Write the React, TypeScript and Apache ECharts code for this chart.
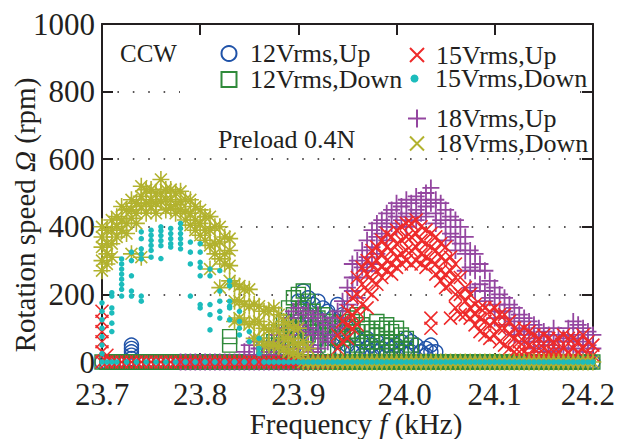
import React, { useEffect, useRef } from "react";
import * as echarts from "echarts";

// Frequency grid (kHz)
const FREQ = [
  23.700, 23.705, 23.710, 23.715, 23.720, 23.725, 23.730, 23.735, 23.740, 23.745,
  23.750, 23.755, 23.760, 23.765, 23.770, 23.775, 23.780, 23.785, 23.790, 23.795,
  23.800, 23.805, 23.810, 23.815, 23.820, 23.825, 23.830, 23.835, 23.840, 23.845,
  23.850, 23.855, 23.860, 23.865, 23.870, 23.875, 23.880, 23.885, 23.890, 23.895,
  23.900, 23.905, 23.910, 23.915, 23.920, 23.925, 23.930, 23.935, 23.940, 23.945,
  23.950, 23.955, 23.960, 23.965, 23.970, 23.975, 23.980, 23.985, 23.990, 23.995,
  24.000, 24.005, 24.010, 24.015, 24.020, 24.025, 24.030, 24.035, 24.040, 24.045,
  24.050, 24.055, 24.060, 24.065, 24.070, 24.075, 24.080, 24.085, 24.090, 24.095,
  24.100, 24.105, 24.110, 24.115, 24.120, 24.125, 24.130, 24.135, 24.140, 24.145,
  24.150, 24.155, 24.160, 24.165, 24.170, 24.175, 24.180, 24.185, 24.190, 24.195,
  24.200,
];

// Rotation speed (rpm), several readings per frequency
const UP12 = [
  [0], [0], [0], [0], [0], [0], [50, 40, 30, 20, 10, 0], [0], [0], [0],
  [0], [0], [0], [0], [0], [0], [0], [0], [0], [0],
  [0], [0], [0], [0], [0], [0], [0], [0], [0], [0],
  [0], [0], [0], [0], [0], [0], [0], [0], [60, 0], [100, 40, 0],
  [180, 120, 60, 0], [210, 160, 90, 0], [190, 140, 80, 0], [170, 110, 0], [180, 130, 70, 0], [160, 100, 0], [150, 90, 40, 0], [130, 70, 0], [170, 120, 60, 0], [140, 80, 30, 0],
  [100, 50, 0], [80, 30, 0], [70, 30, 0], [60, 20, 0], [70, 40, 0], [50, 20, 0], [60, 30, 0], [40, 0], [50, 20, 0], [40, 0],
  [50, 20, 0], [60, 30, 0], [70, 40, 0], [60, 30, 0], [50, 0], [30, 0], [40, 20, 0], [50, 30, 0], [30, 0], [0],
  [0], [0], [0], [0], [0], [0], [0], [0], [0], [0],
  [0], [0], [0], [0], [0], [0], [0], [0], [0], [0],
  [0], [0], [0], [0], [0], [0], [0], [0], [0], [0],
  [0],
];

const DOWN12 = [
  [0], [0], [0], [0], [0], [0], [0], [0], [0], [0],
  [0], [0], [0], [0], [0], [0], [0], [0], [0], [0],
  [0], [0], [0], [0], [0], [0], [75, 50, 0], [0], [0], [0],
  [0], [0], [0], [40, 0], [50, 20, 0], [60, 30, 0], [90, 50, 0], [120, 70, 30, 0], [160, 110, 60, 0], [190, 140, 80, 0],
  [200, 150, 100, 0], [210, 160, 110, 0], [180, 130, 80, 0], [150, 100, 60, 0], [130, 90, 50, 0], [140, 100, 0], [120, 80, 40, 0], [110, 70, 0], [100, 70, 30, 0], [110, 70, 0],
  [130, 90, 40, 0], [120, 80, 0], [140, 90, 50, 0], [110, 70, 0], [100, 60, 30, 0], [90, 60, 0], [120, 80, 40, 0], [100, 60, 0], [110, 70, 30, 0], [90, 50, 0],
  [100, 60, 30, 0], [80, 40, 0], [70, 40, 0], [50, 0], [0], [0], [0], [0], [0], [0],
  [0], [0], [0], [0], [0], [0], [0], [0], [0], [0],
  [0], [0], [0], [0], [0], [0], [0], [0], [0], [0],
  [0], [0], [0], [0], [0], [0], [0], [0], [0], [0],
  [0],
];

const UP15 = [
  [150, 120, 90, 60, 30, 0], [20, 0], [0], [0], [0], [0], [0], [0], [0], [0],
  [0], [0], [0], [0], [0], [0], [0], [0], [0], [0],
  [0], [0], [0], [0], [0], [0], [0], [0], [0], [0],
  [0], [0], [0], [0], [0], [0], [0], [0], [0], [0],
  [0], [0], [0], [0], [0], [0], [0], [0], [80, 40, 0], [120, 60],
  [150, 110, 70], [190, 140, 100], [250, 200, 150, 110], [280, 230, 170], [300, 260, 210, 160], [330, 290, 240, 200], [340, 300, 270, 230], [360, 320, 280, 250], [380, 340, 300, 270], [370, 330, 290, 260],
  [390, 350, 310, 280], [400, 360, 320, 290], [410, 370, 330, 300], [410, 370, 330, 290], [420, 380, 340, 300], [400, 360, 320, 290], [390, 350, 310, 280], [380, 340, 300, 130, 100], [370, 330, 290, 260], [350, 310, 270, 240],
  [340, 300, 260, 220], [310, 270, 230, 130], [290, 250, 200, 160], [250, 200, 140], [220, 180, 140], [200, 160, 130], [170, 140, 110], [160, 130, 90], [160, 120, 80], [150, 110, 70],
  [160, 120, 80], [140, 100, 60], [140, 100, 50], [120, 80, 40], [100, 70, 30], [90, 60, 30], [100, 60, 30], [90, 50, 20], [80, 40, 10], [70, 40, 10],
  [80, 40, 10], [70, 30, 10], [60, 30, 10], [70, 30], [80, 40, 10], [70, 30], [70, 40, 10], [60, 30], [80, 40], [60, 20],
  [50, 20],
];

const DOWN15 = [
  [175, 150, 125, 100, 75, 50, 25, 0], [0], [205, 195, 160, 145, 115, 90, 0], [0], [305, 290, 275, 260, 245, 230, 215, 195], [0], [325, 300, 255, 210, 195], [0], [385, 365, 335, 320, 305, 195, 180], [0],
  [390, 375, 360, 345, 330, 310], [0], [400, 388, 374, 359, 344, 306], [0], [395, 380, 365, 350, 340], [0], [410, 395, 380, 365, 350, 335], [0], [355, 325, 290, 195], [0],
  [350, 325, 295, 280, 255, 170, 160], [0], [275, 255, 170, 140, 95], [0], [270, 210, 180, 150, 130], [0], [240, 225, 180, 165, 160, 125], [0], [150, 120, 100, 80], [0],
  [90, 60], [0], [70, 40, 25], [0], [0], [0], [0], [0], [0], [0],
  [0], [0], [0], [0], [0], [0], [0], [0], [0], [0],
  [0], [0], [0], [0], [0], [0], [0], [0], [0], [0],
  [0], [0], [0], [0], [0], [0], [0], [0], [0], [0],
  [0], [0], [0], [0], [0], [0], [0], [0], [0], [0],
  [0], [0], [0], [0], [0], [0], [0], [0], [0], [0],
  [0], [0], [0], [0], [0], [0], [0], [0], [0], [0],
  [0],
];

const UP18 = [
  [], [], [], [], [], [], [], [], [], [],
  [], [], [], [], [], [], [0], [0], [0], [0],
  [0], [0], [0], [0], [0], [0], [0], [0], [0], [30, 0],
  [50, 10, 0], [60, 20, 0], [40, 0], [0], [30, 0], [60, 20, 0], [80, 40, 0], [100, 50, 0], [130, 80, 30, 0], [150, 100, 40, 0],
  [160, 110, 50, 0], [140, 90, 40, 0], [150, 100, 50, 0], [130, 80, 30, 0], [140, 90, 40, 0], [120, 70], [110, 60], [130, 80], [150, 100], [180, 130],
  [220, 170], [290, 250, 210], [300, 250, 190], [330, 280], [360, 310, 270], [390, 340, 290], [410, 370, 320], [420, 380], [440, 400, 360], [450, 410],
  [470, 430, 400], [460, 420], [480, 440, 400], [470, 430], [490, 450, 420], [480, 440], [500, 460, 430], [515, 470], [480, 440, 410], [470, 420],
  [450, 400, 360], [430, 380], [420, 370, 330], [400, 350], [370, 320, 270], [330, 280, 220], [320, 270, 210], [290, 230], [270, 210, 180], [240, 190],
  [220, 170, 130], [200, 150], [190, 150, 110], [170, 130], [160, 120, 80], [140, 100], [130, 90, 60], [120, 80], [110, 70, 40], [100, 60],
  [90, 60, 30], [80, 50], [100, 60, 30], [80, 40], [70, 40], [100, 60], [120, 80, 40], [110, 70], [100, 60, 30], [90, 50],
  [80, 40],
];

const DOWN18 = [
  [400, 370, 340, 300, 270], [390, 350, 320, 290], [420, 390, 350, 310], [430, 400, 370], [460, 420, 390], [450, 410, 380], [480, 450, 425, 320], [470, 440, 410], [520, 490, 460, 310], [510, 470, 440],
  [510, 480, 460], [500, 470, 440], [540, 500, 475], [510, 480, 450], [510, 480, 455], [500, 465, 440], [505, 475, 450], [480, 445, 420], [480, 440, 405], [460, 420, 390],
  [450, 410, 375], [430, 390, 360], [430, 390, 345, 275], [400, 350, 320], [400, 355, 305, 220], [370, 320, 290], [365, 330, 285, 240], [230, 180, 120], [225, 180, 130], [215, 170, 120],
  [215, 165, 110], [170, 120, 70], [165, 120, 70], [150, 100, 50], [150, 95, 50], [160, 110, 50], [140, 90, 45], [120, 70, 40], [110, 70, 30], [100, 60, 25],
  [100, 50, 20], [60, 0], [40, 0], [0], [0], [0], [0], [0], [0], [0],
  [0], [0], [0], [0], [0], [0], [0], [0], [0], [0],
  [0], [0], [0], [0], [0], [0], [0], [0], [0], [0],
  [0], [0], [0], [0], [0], [0], [0], [0], [0], [0],
  [0], [0], [0], [0], [0], [0], [0], [0], [0], [0],
  [0], [0], [0], [0], [0], [0], [0], [0], [0], [0],
  [0],
];

const SERIES_NAMES = ["12Vrms,Up", "12Vrms,Down", "15Vrms,Up", "15Vrms,Down", "18Vrms,Up", "18Vrms,Down"];

const FONT = "Liberation Serif";
const INK = "#231f20";
const CROSS = "path://M0,0L10,10M10,0L0,10";
const PLUS = "path://M5,0L5,10M0,5L10,5";
const STAR = "path://M5,0L5,10M0,5L10,5M1.5,1.5L8.5,8.5M8.5,1.5L1.5,8.5";

function toPoints(vals: number[][]) {
  const pts: number[][] = [];
  vals.forEach((arr, i) => arr.forEach((v) => pts.push([FREQ[i], v])));
  return pts;
}

export default function App() {
  const ref = useRef<HTMLDivElement>(null);
  useEffect(() => {
    if (!ref.current) return;
    const chart = echarts.init(ref.current, undefined, { renderer: "svg" });

    const legendText = (pad: number) => ({
      fontFamily: FONT,
      fontSize: 26,
      color: INK,
      padding: [0, 0, 0, pad],
      lineHeight: 26,
    });
    const mkLegend = (name: string, left: number, top: number, size: number, pad: number, icon?: string) => ({
      show: true,
      left,
      top,
      padding: 0,
      itemWidth: size,
      itemHeight: size,
      selectedMode: false,
      data: [icon ? { name, icon } : { name }],
      textStyle: legendText(pad),
    });

    const labelFmt = (v: number) => {
      const s = v.toFixed(1);
      if (s === "24.0") return "{r|" + s + "}";
      if (s === "24.2") return "{l|" + s + "}";
      return "{n|" + s + "}";
    };
    const tickFont = { fontFamily: FONT, fontSize: 31, color: INK };

    chart.setOption({
      animation: false,
      backgroundColor: "#ffffff",
      textStyle: { fontFamily: FONT },
      grid: { left: 102, right: 24, top: 24, bottom: 77, containLabel: false },
      xAxis: [
        {
          type: "value",
          min: 23.7,
          max: 24.2,
          interval: 0.1,
          position: "bottom",
          axisLine: { show: true, onZero: false, lineStyle: { color: INK, width: 2 } },
          axisTick: { show: true, inside: true, length: 9, lineStyle: { color: INK, width: 2 } },
          axisLabel: {
            margin: 17,
            formatter: labelFmt,
            rich: {
              n: { ...tickFont },
              r: { ...tickFont, padding: [0, 0, 0, 16] },
              l: { ...tickFont, padding: [0, 10, 0, 0] },
            },
            ...tickFont,
          },
          splitLine: { show: false },
        },
        {
          type: "value",
          min: 23.7,
          max: 24.2,
          interval: 0.1,
          position: "top",
          axisLine: { show: true, onZero: false, lineStyle: { color: INK, width: 2 } },
          axisTick: { show: true, inside: true, length: 11, lineStyle: { color: INK, width: 2 } },
          axisLabel: { show: false },
          splitLine: { show: false },
        },
      ],
      yAxis: [
        {
          type: "value",
          min: 0,
          max: 1000,
          interval: 200,
          position: "left",
          axisLine: { show: true, onZero: false, lineStyle: { color: INK, width: 2 } },
          axisTick: { show: true, inside: true, length: 11, lineStyle: { color: INK, width: 2 } },
          axisLabel: { margin: 7, formatter: (v: number) => String(v), ...tickFont },
          splitLine: { show: true, lineStyle: { color: INK, width: 1.5, type: [1.6, 13.8] } },
        },
        {
          type: "value",
          min: 0,
          max: 1000,
          interval: 200,
          position: "right",
          axisLine: { show: true, onZero: false, lineStyle: { color: INK, width: 2 } },
          axisTick: { show: true, inside: true, length: 11, lineStyle: { color: INK, width: 2 } },
          axisLabel: { show: false },
          splitLine: { show: false },
        },
      ],
      legend: [
        mkLegend(SERIES_NAMES[0], 220.5, 40.5, 15, 8.5),
        mkLegend(SERIES_NAMES[1], 220.5, 66.5, 15, 8.5),
        mkLegend(SERIES_NAMES[2], 409, 42, 14, 7),
        mkLegend(SERIES_NAMES[3], 410.5, 65.5, 8, 11.5),
        mkLegend(SERIES_NAMES[4], 407, 105.5, 18, 5),
        mkLegend(SERIES_NAMES[5], 409, 130.5, 14, 7, CROSS),
      ],
      graphic: [
        { type: "rect", z: 1, silent: true, shape: { x: 180, y: 85, width: 400, height: 12 }, style: { fill: "#ffffff" } },
        { type: "text", x: 120, y: 53.5, z: 10, style: { text: "CCW", fontFamily: FONT, fontSize: 25, fill: INK, verticalAlign: "middle" } },
        { type: "text", x: 218, y: 139, z: 10, style: { text: "Preload 0.4N", fontFamily: FONT, fontSize: 26, fill: INK, verticalAlign: "middle" } },
        {
          type: "text",
          x: 356,
          y: 424,
          z: 10,
          style: {
            text: "Frequency {i|f} (kHz)",
            fontFamily: FONT,
            fontSize: 29,
            fill: INK,
            align: "center",
            verticalAlign: "middle",
            rich: { i: { fontFamily: FONT, fontSize: 29, fontStyle: "italic", fill: INK } },
          },
        },
        {
          type: "text",
          x: 25,
          y: 215,
          rotation: Math.PI / 2,
          z: 10,
          style: {
            text: "Rotation speed {i|Ω} (rpm)",
            fontFamily: FONT,
            fontSize: 29,
            fill: INK,
            align: "center",
            verticalAlign: "middle",
            rich: { i: { fontFamily: FONT, fontSize: 29, fontStyle: "italic", fill: INK } },
          },
        },
      ],
      series: [
        {
          name: SERIES_NAMES[0], type: "scatter", data: toPoints(UP12), symbol: "circle", symbolSize: 14,
          itemStyle: { color: "rgba(255,255,255,0)", borderColor: "#1f52a8", borderWidth: 1.4, opacity: 1 },
        },
        {
          name: SERIES_NAMES[1], type: "scatter", data: toPoints(DOWN12), symbol: "rect", symbolSize: 14,
          itemStyle: { color: "rgba(255,255,255,0)", borderColor: "#2f8a3a", borderWidth: 1.4, opacity: 1 },
        },
        {
          name: SERIES_NAMES[4], type: "scatter", data: toPoints(UP18), symbol: PLUS, symbolSize: 17,
          itemStyle: { color: "#9446a0", borderColor: "#9446a0", borderWidth: 1.8, opacity: 1 },
        },
        {
          name: SERIES_NAMES[2], type: "scatter", data: toPoints(UP15), symbol: CROSS, symbolSize: 13,
          itemStyle: { color: "#ee2a2a", borderColor: "#ee2a2a", borderWidth: 1.6, opacity: 1 },
        },
        {
          name: SERIES_NAMES[5], type: "scatter", data: toPoints(DOWN18), symbol: STAR, symbolSize: 17,
          itemStyle: { color: "#b2b22e", borderColor: "#b2b22e", borderWidth: 1.6, opacity: 1 },
        },
        {
          name: SERIES_NAMES[3], type: "scatter", data: toPoints(DOWN15), symbol: "circle", symbolSize: 5.5,
          itemStyle: { color: "#1cbcbc", borderWidth: 0, opacity: 1 },
        },
      ],
    });
    return () => chart.dispose();
  }, []);
  return <div ref={ref} style={{ position: "absolute", left: 0, top: 0, width: 618, height: 439 }} />;
}
